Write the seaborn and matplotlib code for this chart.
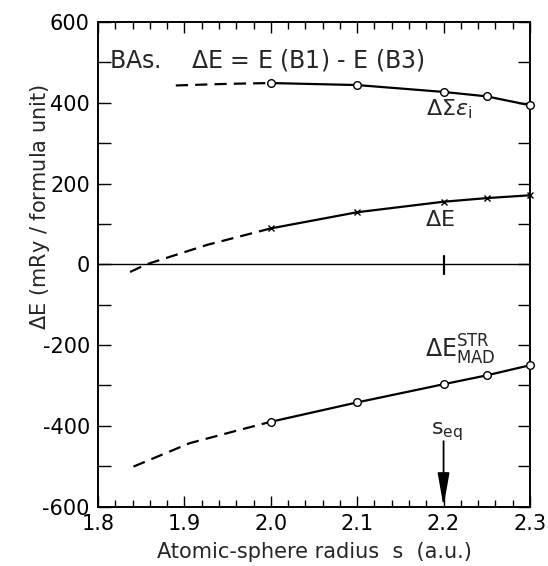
import matplotlib
matplotlib.use("Agg")
import matplotlib.pyplot as plt
from matplotlib.ticker import MultipleLocator
import seaborn as sns

sns.set_theme(style="ticks")
plt.rcParams["font.family"] = ["DejaVu Sans"]
plt.rcParams["mathtext.fontset"] = "dejavusans"

# Calculated points (atomic-sphere radius s, energy difference in mRy)
s_calc = [2.0, 2.1, 2.2, 2.25, 2.3]
sum_eps = [449, 444, 427, 416, 394]
delta_e = [89, 129, 155, 164, 171]
delta_mad = [-390, -342, -297, -275, -250]

# Extrapolated (dashed) continuation towards small s
s_sum_ext = [1.89, 1.95, 2.0]
sum_eps_ext = [443, 447, 449]
s_de_ext = [1.837, 1.856, 1.926, 2.0]
delta_e_ext = [-19, 0, 48, 89]
s_mad_ext = [1.841, 1.906, 1.964, 2.0]
delta_mad_ext = [-501, -443, -410, -390]

s_eq = 2.2

fig = plt.figure(figsize=(5.48, 5.66), dpi=100)
ax = fig.add_axes([0.179, 0.105, 0.788, 0.856])

lw = 1.6
marker_kw = dict(markersize=5.5, markerfacecolor="white", markeredgecolor="black",
                 markeredgewidth=1.0)
# solid calculated curves
sns.lineplot(x=s_calc, y=sum_eps, ax=ax, color="black", lw=lw, marker="o",
             zorder=3, clip_on=False, **marker_kw)
sns.lineplot(x=s_calc, y=delta_e, ax=ax, color="black", lw=lw, marker="x",
             markersize=4.5, markeredgecolor="black", markeredgewidth=1.0,
             zorder=3, clip_on=False)
sns.lineplot(x=s_calc, y=delta_mad, ax=ax, color="black", lw=lw, marker="o",
             zorder=3, clip_on=False, **marker_kw)

# dashed extrapolations
for xs, ys in [(s_sum_ext, sum_eps_ext), (s_de_ext, delta_e_ext), (s_mad_ext, delta_mad_ext)]:
    sns.lineplot(x=xs, y=ys, ax=ax, color="black", lw=lw, linestyle=(0, (5.5, 3.2)),
                 zorder=2)

# zero line with mark at equilibrium radius
ax.axhline(0, color="black", lw=1.0, zorder=1)
ax.plot([s_eq, s_eq], [-24, 20], color="black", lw=1.6)

# equilibrium arrow
ax.annotate("", xy=(s_eq, -600), xytext=(s_eq, -438),
            arrowprops=dict(arrowstyle="-|>,head_length=1.7,head_width=0.3",
                            color="black", lw=1.3, shrinkA=0, shrinkB=0))
ax.text(s_eq + 0.004, -415, r"s$_{\rm eq}$", ha="center", va="center", fontsize=16)

# curve labels
ax.text(2.207, 384, r"$\Delta\Sigma\varepsilon_{\rm i}$", ha="center", va="center", fontsize=16)
ax.text(2.196, 109, r"$\Delta$E", ha="center", va="center", fontsize=16)
ax.text(2.220, -212, r"$\Delta$E$^{\rm STR}_{\rm MAD}$", ha="center", va="center", fontsize=17)
ax.text(1.813, 506, r"BAs.    $\Delta$E = E (B1) - E (B3)", ha="left", va="center", fontsize=17)

ax.set_xlim(1.8, 2.3)
ax.set_ylim(-600, 600)
ax.xaxis.set_minor_locator(MultipleLocator(0.02))
ax.yaxis.set_minor_locator(MultipleLocator(100))
ax.set_xticks([1.8, 1.9, 2.0, 2.1, 2.2, 2.3])
ax.set_xticklabels(["1.8", "1.9", "2.0", "2.1", "2.2", "2.3"])
ax.set_yticks([-600, -400, -200, 0, 200, 400, 600])
ax.set_yticklabels(["-600", "-400", "-200", "0", "200", "400", "600"])
ax.tick_params(which="both", direction="in", top=True, right=True, colors="black",
               labelsize=15, width=1.0)
ax.tick_params(axis="x", which="major", length=8, pad=5)
ax.tick_params(axis="x", which="minor", length=5)
ax.tick_params(axis="y", which="both", length=9, pad=6)
for sp in ax.spines.values():
    sp.set_linewidth(1.4)
    sp.set_color("black")

ax.set_xlabel("Atomic-sphere radius  s  (a.u.)", fontsize=15, labelpad=6)
ax.set_ylabel(r"$\Delta$E (mRy / formula unit)", fontsize=15)
ax.yaxis.set_label_coords(-0.106, 0.618)

fig.savefig("out.png", dpi=100)
